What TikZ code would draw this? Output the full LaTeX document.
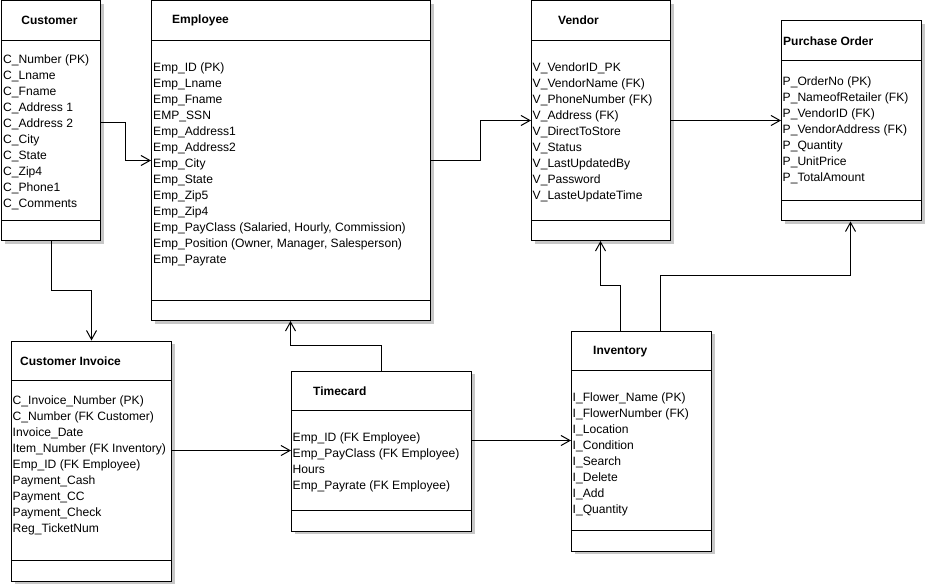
\documentclass[tikz,border=0pt]{standalone}
\usepackage{fontspec}
\setmainfont{Liberation Sans}
\usetikzlibrary{arrows.meta,shadows,calc}
\begin{document}
\begin{tikzpicture}[x=1pt,y=-1pt,
  tbl/.style={draw=black, line width=1pt, fill=white, anchor=north west, inner sep=0pt,
    drop shadow={shadow xshift=3pt, shadow yshift=-3pt, fill=black!22, opacity=1}},
  ttl/.style={anchor=west, inner sep=0pt, font=\fontsize{12}{14}\selectfont\bfseries},
  attr/.style={anchor=base west, inner sep=0pt, font=\fontsize{12.1}{14}\selectfont},
  sep/.style={line width=1pt},
  conn/.style={line width=1pt, -{Straight Barb[length=9pt,width=10pt]}}]
\useasboundingbox (0,0) rectangle (925,585);

% ---------- boxes ----------
\node[tbl, minimum width=99pt, minimum height=239.5pt] (cust) at (1,0.5) {};
\node[tbl, minimum width=279pt, minimum height=319.5pt] (emp) at (151,0.5) {};
\node[tbl, minimum width=139pt, minimum height=239.5pt] (vend) at (531,0.5) {};
\node[tbl, minimum width=140pt, minimum height=200pt] (po) at (781,20.5) {};
\node[tbl, minimum width=160pt, minimum height=240pt] (ci) at (11,340.5) {};
\node[tbl, minimum width=180pt, minimum height=160pt] (tc) at (291,370.5) {};
\node[tbl, minimum width=140pt, minimum height=220pt] (inv) at (571,330.5) {};

% ---------- compartment lines ----------
\draw[sep] (cust.west |- 0,40.5) -- (cust.east |- 0,40.5);
\draw[sep] (cust.west |- 0,220.5) -- (cust.east |- 0,220.5);
\draw[sep] (emp.west |- 0,40.5) -- (emp.east |- 0,40.5);
\draw[sep] (emp.west |- 0,300.5) -- (emp.east |- 0,300.5);
\draw[sep] (vend.west |- 0,40.5) -- (vend.east |- 0,40.5);
\draw[sep] (vend.west |- 0,220.5) -- (vend.east |- 0,220.5);
\draw[sep] (po.west |- 0,60.5) -- (po.east |- 0,60.5);
\draw[sep] (po.west |- 0,200.5) -- (po.east |- 0,200.5);
\draw[sep] (ci.west |- 0,380.5) -- (ci.east |- 0,380.5);
\draw[sep] (ci.west |- 0,560.5) -- (ci.east |- 0,560.5);
\draw[sep] (tc.west |- 0,410.5) -- (tc.east |- 0,410.5);
\draw[sep] (tc.west |- 0,510.5) -- (tc.east |- 0,510.5);
\draw[sep] (inv.west |- 0,370.5) -- (inv.east |- 0,370.5);
\draw[sep] (inv.west |- 0,530.5) -- (inv.east |- 0,530.5);

% ---------- titles ----------
\node[ttl, anchor=center] (custT) at (49.5,20) {Customer};
\node[ttl] (empT) at (172,20) {Employee};
\node[ttl] (vendT) at (558,20) {Vendor};
\node[ttl] (poT) at (783,41) {Purchase Order};
\node[ttl] (ciT) at (20,361) {Customer Invoice};
\node[ttl] (tcT) at (313,391) {Timecard};
\node[ttl] (invT) at (593,352) {Inventory};

% ---------- attributes ----------
\foreach \t [count=\i] in {C\_Number (PK), C\_Lname, C\_Fname, C\_Address 1, C\_Address 2, C\_City, C\_State, C\_Zip4, C\_Phone1, C\_Comments}
  \node[attr] (custA\i) at (3,{63.5+16*(\i-1)}) {\t};
\foreach \t [count=\i] in {Emp\_ID (PK), Emp\_Lname, Emp\_Fname, EMP\_SSN, Emp\_Address1, Emp\_Address2, Emp\_City, Emp\_State, Emp\_Zip5, Emp\_Zip4, {Emp\_PayClass (Salaried, Hourly, Commission)}, {Emp\_Position (Owner, Manager, Salesperson)}, Emp\_Payrate}
  \node[attr] (empA\i) at (153,{71.5+16*(\i-1)}) {\t};
\foreach \t [count=\i] in {V\_VendorID\_PK, V\_VendorName (FK), V\_PhoneNumber (FK), V\_Address (FK), V\_DirectToStore, V\_Status, V\_LastUpdatedBy, V\_Password, V\_LasteUpdateTime}
  \node[attr] (vendA\i) at (532.5,{71.5+16*(\i-1)}) {\t};
\foreach \t [count=\i] in {P\_OrderNo (PK), P\_NameofRetailer (FK), P\_VendorID (FK), P\_VendorAddress (FK), P\_Quantity, P\_UnitPrice, P\_TotalAmount}
  \node[attr] (poA\i) at (782.5,{86+16*(\i-1)}) {\t};
\foreach \t [count=\i] in {C\_Invoice\_Number (PK), C\_Number (FK Customer), Invoice\_Date, Item\_Number (FK Inventory), Emp\_ID (FK Employee), Payment\_Cash, Payment\_CC, Payment\_Check, Reg\_TicketNum}
  \node[attr] (ciA\i) at (12.5,{404.5+16*(\i-1)}) {\t};
\foreach \t [count=\i] in {Emp\_ID (FK Employee), Emp\_PayClass (FK Employee), Hours, Emp\_Payrate (FK Employee)}
  \node[attr] (tcA\i) at (292.5,{441.5+16*(\i-1)}) {\t};
\foreach \t [count=\i] in {I\_Flower\_Name (PK), I\_FlowerNumber (FK), I\_Location, I\_Condition, I\_Search, I\_Delete, I\_Add, I\_Quantity}
  \node[attr] (invA\i) at (572.5,{401.5+16*(\i-1)}) {\t};

% ---------- connectors ----------
\draw[conn] (cust.east |- 0,122.5) -- (125.5,122.5) |- (emp.west |- 0,160.5);
\draw[conn] (emp.east |- 0,160.5) -- (480.5,160.5) |- (vend.west |- 0,120.5);
\draw[conn] (vend.east |- 0,120.5) -- (po.west |- 0,120.5);
\draw[conn] (cust.south) |- (ci.north |- 0,290.5) -- (ci.north);
\draw[conn] (ci.east |- 0,450.5) -- (tc.west |- 0,450.5);
\draw[conn] (tc.north) |- (290.5,345.5) -- (emp.south -| 290.5,0);
\draw[conn] (tc.east |- 0,440.5) -- (inv.west |- 0,440.5);
\draw[conn] (inv.north -| 620.5,0) |- (600.5,285.5) -- (vend.south -| 600.5,0);
\draw[conn] (inv.north -| 660.5,0) |- (850.5,275.5) -- (po.south -| 850.5,0);
\end{tikzpicture}
\end{document}
